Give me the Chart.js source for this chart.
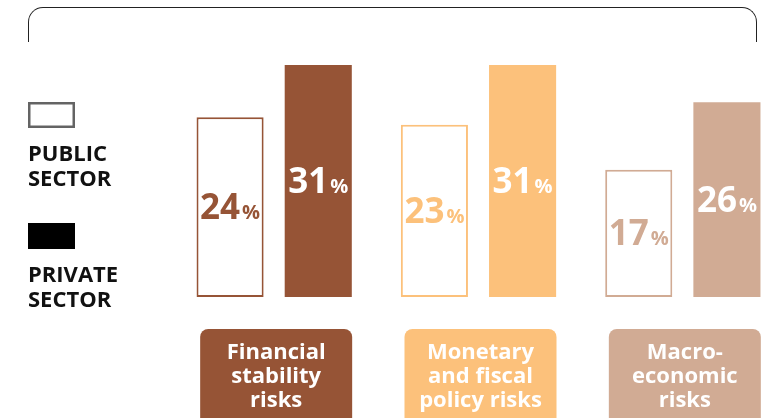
<!DOCTYPE html>
<html>
<head>
<meta charset="utf-8">
<script src="https://cdn.jsdelivr.net/npm/chart.js@4"></script>
<style>
html,body{margin:0;padding:0;background:#fff;overflow:hidden;}
#wrap{position:relative;width:767px;height:418px;overflow:hidden;background:#fff;}
#frame{position:absolute;left:28px;top:7px;width:727px;height:34px;border:1.5px solid #222;border-bottom:none;border-radius:15px 15px 0 0;}
canvas{position:absolute;left:0;top:0;}
</style>
</head>
<body>
<div id="wrap">
  <div id="frame"></div>
  <canvas id="c" width="800" height="418"></canvas>
</div>
<script>
// ---- data ----
const categories = [
  ['Financial', 'stability', 'risks'],
  ['Monetary', 'and fiscal', 'policy risks'],
  ['Macro-', 'economic', 'risks']
];
const publicSector = [24, 23, 17];
const privateSector = [31, 31, 26];
const seriesNames = ['PUBLIC SECTOR', 'PRIVATE SECTOR'];
const catColors = ['#965436', '#FCC17B', '#D1AB94'];

const FONT = '"Open Sans", "Noto Sans", sans-serif';

const deco = {
  id: 'deco',
  afterDatasetsDraw(chart) {
    const ctx = chart.ctx;
    ctx.save();
    chart.data.datasets.forEach((ds, di) => {
      const meta = chart.getDatasetMeta(di);
      meta.data.forEach((bar, i) => {
        const num = String(ds.data[i]);
        const pc = '%';
        ctx.font = '700 35px ' + FONT;
        const w1 = ctx.measureText(num).width;
        ctx.font = '700 20px ' + FONT;
        const w2 = ctx.measureText(pc).width;
        const gap = 2;
        const total = w1 + gap + w2;
        const cx = bar.x;
        const cy = (bar.y + bar.base) / 2;
        const baseY = cy + 12;
        ctx.fillStyle = di === 0 ? catColors[i] : '#ffffff';
        ctx.textAlign = 'left';
        ctx.textBaseline = 'alphabetic';
        ctx.font = '700 35px ' + FONT;
        ctx.fillText(num, cx - total / 2, baseY);
        ctx.font = '700 20px ' + FONT;
        ctx.fillText(pc, cx - total / 2 + w1 + gap, baseY);
      });
    });
    ctx.restore();
  },
  afterDraw(chart) {
    const ctx = chart.ctx;
    const xs = chart.scales.x;
    ctx.save();
    // category boxes
    categories.forEach((lines, i) => {
      const cx = xs.getPixelForValue(i) + 2;
      const w = 152, h = 110, top = 329, r = 8;
      const left = cx - w / 2;
      ctx.fillStyle = catColors[i];
      ctx.beginPath();
      ctx.roundRect(left, top, w, h, r);
      ctx.fill();
      ctx.fillStyle = '#ffffff';
      ctx.font = '700 22px ' + FONT;
      ctx.textAlign = 'center';
      ctx.textBaseline = 'alphabetic';
      lines.forEach((ln, k) => ctx.fillText(ln, cx, 359 + k * 24));
    });
    // legend
    ctx.lineWidth = 2.5;
    ctx.strokeStyle = '#646464';
    ctx.fillStyle = '#ffffff';
    ctx.fillRect(29.25, 103.25, 44.5, 23.5);
    ctx.strokeRect(29.25, 103.25, 44.5, 23.5);
    ctx.fillStyle = '#000000';
    ctx.fillRect(28, 223, 47, 26);
    ctx.fillStyle = '#111111';
    ctx.font = '700 22px ' + FONT;
    ctx.textAlign = 'left';
    const p = seriesNames[0].split(' ');
    const q = seriesNames[1].split(' ');
    ctx.fillText(p[0], 28, 161);
    ctx.fillText(p[1], 28, 186);
    ctx.fillText(q[0], 28, 282);
    ctx.fillText(q[1], 28, 307);
    ctx.restore();
  }
};

new Chart(document.getElementById('c'), {
  type: 'bar',
  data: {
    labels: categories,
    datasets: [
      {
        label: seriesNames[0],
        data: publicSector,
        backgroundColor: '#ffffff',
        borderColor: catColors,
        borderWidth: 2,
        borderSkipped: false
      },
      {
        label: seriesNames[1],
        data: privateSector,
        backgroundColor: catColors,
        borderWidth: 0
      }
    ]
  },
  options: {
    responsive: false,
    animation: false,
    devicePixelRatio: 1,
    categoryPercentage: 0.863,
    barPercentage: 0.761,
    layout: { padding: { left: 172, right: 15, top: 35, bottom: 121 } },
    plugins: { legend: { display: false }, tooltip: { enabled: false } },
    scales: {
      x: { display: false },
      y: { display: false, min: 0, max: 35 }
    }
  },
  plugins: [deco]
});
</script>
</body>
</html>
